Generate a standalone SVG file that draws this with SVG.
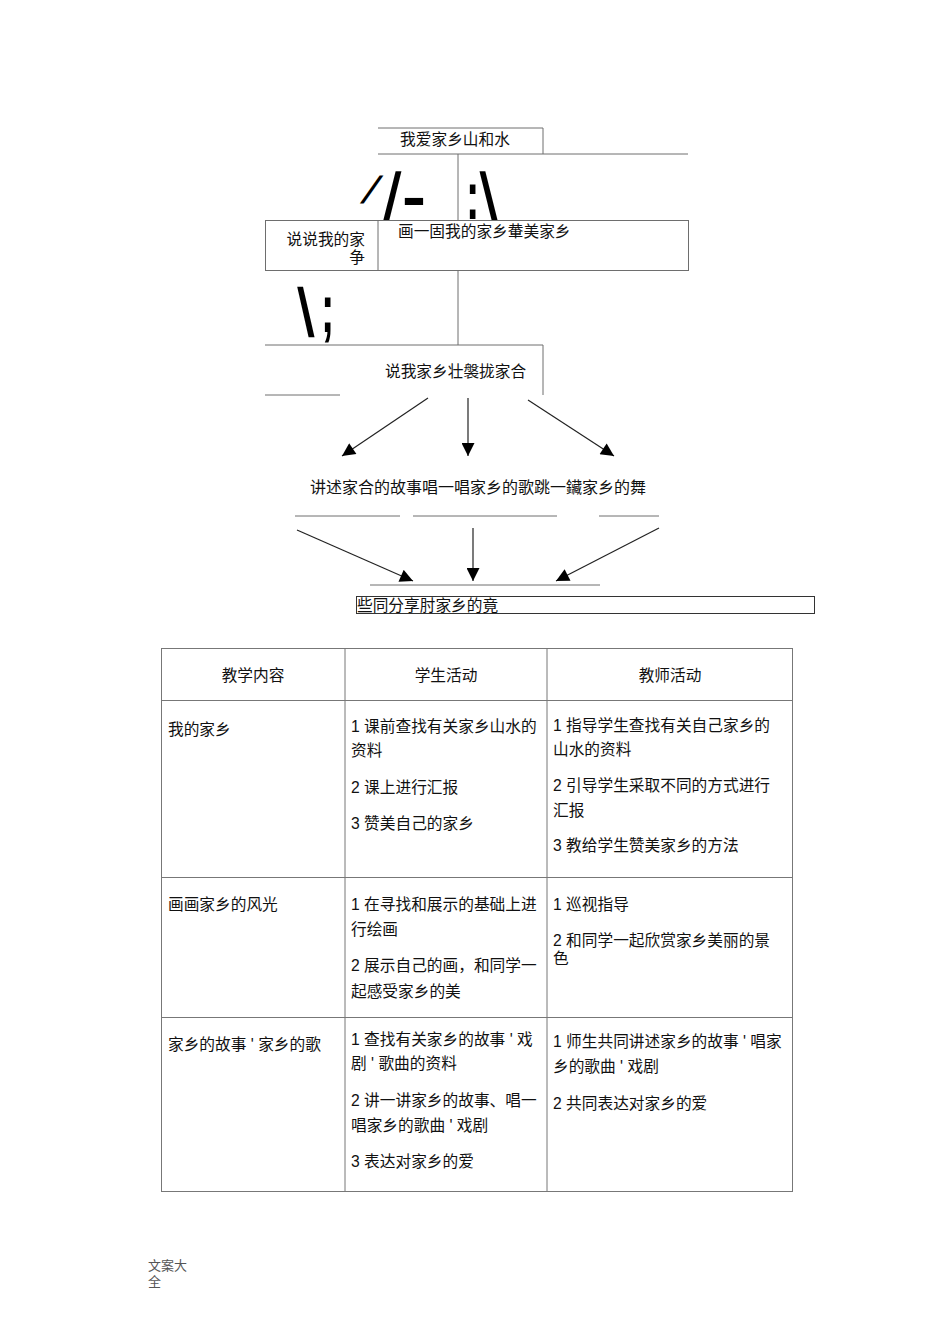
<svg xmlns="http://www.w3.org/2000/svg" width="950" height="1344" viewBox="0 0 950 1344">
<defs>
<style>
text{font-family:"Liberation Sans","Noto Sans CJK SC",sans-serif;fill:#111;}
.t15{font-size:15.7px;}
.t16{font-size:16px;}
.ln{stroke:#6e6e6e;stroke-width:1;fill:none;}
.ar{stroke:#222;stroke-width:1.2;fill:none;marker-end:url(#ah);}
.tb{stroke:#777;stroke-width:1;fill:none;}
.glyph{font-family:"Liberation Sans",sans-serif;font-weight:bold;font-size:40px;fill:#000;}
.foot{font-size:13px;fill:#555;}
</style>
<marker id="ah" viewBox="0 0 10 10" refX="10" refY="5" markerWidth="15" markerHeight="13" markerUnits="userSpaceOnUse" orient="auto">
<path d="M0,0 L10,5 L0,10 z" fill="#000"/>
</marker>
</defs>

<g id="connectors">
<line class="ln" x1="458" y1="154" x2="458" y2="220"/>
<line class="ln" x1="458" y1="270" x2="458" y2="345"/>
<line class="ar" x1="428" y1="398" x2="342" y2="456"/>
<line class="ar" x1="468" y1="398" x2="468" y2="456"/>
<line class="ar" x1="528" y1="400" x2="614" y2="456"/>
<line class="ln" x1="295" y1="516" x2="400" y2="516"/>
<line class="ln" x1="413" y1="516" x2="557" y2="516"/>
<line class="ln" x1="599" y1="516" x2="659" y2="516"/>
<line class="ar" x1="297" y1="530" x2="413" y2="581"/>
<line class="ar" x1="473" y1="528" x2="473" y2="581"/>
<line class="ar" x1="659" y1="528" x2="556" y2="581"/>
<line class="ln" x1="370" y1="585" x2="600" y2="585"/>
</g>

<g id="node-top">
<polyline class="ln" points="378,128 543,128 543,154"/>
<line class="ln" x1="378" y1="154" x2="688" y2="154"/>
<text class="t15" x="455" y="145" text-anchor="middle">我爱家乡山和水</text>
</g>

<g id="glyphs">
<text class="glyph" transform="translate(360,203) skewX(-20) scale(1.2,0.95)" style="font-weight:normal">/</text>
<text class="glyph" transform="translate(383,219) skewX(-6) scale(1.25,1.65)">/</text>
<text class="glyph" transform="translate(402,217) scale(1.8,1.5)">-</text>
<text class="glyph" transform="translate(466,219) scale(1,1.7)">:</text>
<text class="glyph" transform="translate(484,219) skewX(6) scale(1.25,1.65)">\</text>
<text class="glyph" transform="translate(301,336) skewX(5) scale(1.25,1.7)">\</text>
<text class="glyph" transform="translate(321,332) scale(1,1.7)">;</text>
</g>

<g id="node-row2">
<rect x="265.5" y="220.5" width="423" height="50" fill="none" stroke="#6e6e6e" stroke-width="1"/>
<line class="ln" x1="378" y1="220" x2="378" y2="270"/>
<text class="t15" x="365" y="245" text-anchor="end">说说我的家</text>
<text class="t15" x="365" y="263" text-anchor="end">争</text>
<text class="t15" x="398" y="237">画一固我的家乡輂美家乡</text>
</g>

<g id="node-mid">
<polyline class="ln" points="265,345 543,345 543,395"/>
<line class="ln" x1="265" y1="395" x2="340" y2="395"/>
<text class="t15" x="385" y="377">说我家乡壮褩拢家合</text>
</g>

<g id="node-activities">
<text class="t16" x="310" y="493">讲述家合的故事唱一唱家乡的歌跳一鑶家乡的舞</text>
</g>

<g id="node-share">
<rect x="356.5" y="596.5" width="458" height="17" fill="none" stroke="#333" stroke-width="1"/>
<text class="t15" x="357" y="611">些同分享肘家乡的竟</text>
</g>

<g id="table">
<rect class="tb" x="161.5" y="648.5" width="631" height="543"/>
<line class="tb" x1="345" y1="648" x2="345" y2="1191"/>
<line class="tb" x1="547" y1="648" x2="547" y2="1191"/>
<line class="tb" x1="161" y1="700.5" x2="793" y2="700.5"/>
<line class="tb" x1="161" y1="877.5" x2="793" y2="877.5"/>
<line class="tb" x1="161" y1="1017.5" x2="793" y2="1017.5"/>
<text class="t15" x="253" y="681" text-anchor="middle">教学内容</text>
<text class="t15" x="446" y="681" text-anchor="middle">学生活动</text>
<text class="t15" x="670" y="681" text-anchor="middle">教师活动</text>

<text class="t15" x="168" y="735">我的家乡</text>
<text class="t15" x="351" y="732">1 课前查找有关家乡山水的</text>
<text class="t15" x="351" y="756">资料</text>
<text class="t15" x="351" y="793">2 课上进行汇报</text>
<text class="t15" x="351" y="829">3 赞美自己的家乡</text>
<text class="t15" x="553" y="731">1 指导学生查找有关自己家乡的</text>
<text class="t15" x="553" y="755">山水的资料</text>
<text class="t15" x="553" y="791">2 引导学生采取不同的方式进行</text>
<text class="t15" x="553" y="816">汇报</text>
<text class="t15" x="553" y="851">3 教给学生赞美家乡的方法</text>

<text class="t15" x="168" y="910">画画家乡的风光</text>
<text class="t15" x="351" y="910">1 在寻找和展示的基础上进</text>
<text class="t15" x="351" y="935">行绘画</text>
<text class="t15" x="351" y="971">2 展示自己的画，和同学一</text>
<text class="t15" x="351" y="997">起感受家乡的美</text>
<text class="t15" x="553" y="910">1 巡视指导</text>
<text class="t15" x="553" y="946">2 和同学一起欣赏家乡美丽的景</text>
<text class="t15" x="553" y="964">色</text>

<text class="t15" x="168" y="1050">家乡的故事 ' 家乡的歌</text>
<text class="t15" x="351" y="1045">1 查找有关家乡的故事 ' 戏</text>
<text class="t15" x="351" y="1069">剧 ' 歌曲的资料</text>
<text class="t15" x="351" y="1106">2 讲一讲家乡的故事、唱一</text>
<text class="t15" x="351" y="1131">唱家乡的歌曲 ' 戏剧</text>
<text class="t15" x="351" y="1167">3 表达对家乡的爱</text>
<text class="t15" x="553" y="1047">1 师生共同讲述家乡的故事 ' 唱家</text>
<text class="t15" x="553" y="1072">乡的歌曲 ' 戏剧</text>
<text class="t15" x="553" y="1109">2 共同表达对家乡的爱</text>
</g>

<g id="footer">
<text class="foot" x="148" y="1270">文案大</text>
<text class="foot" x="148" y="1286">全</text>
</g>
</svg>
